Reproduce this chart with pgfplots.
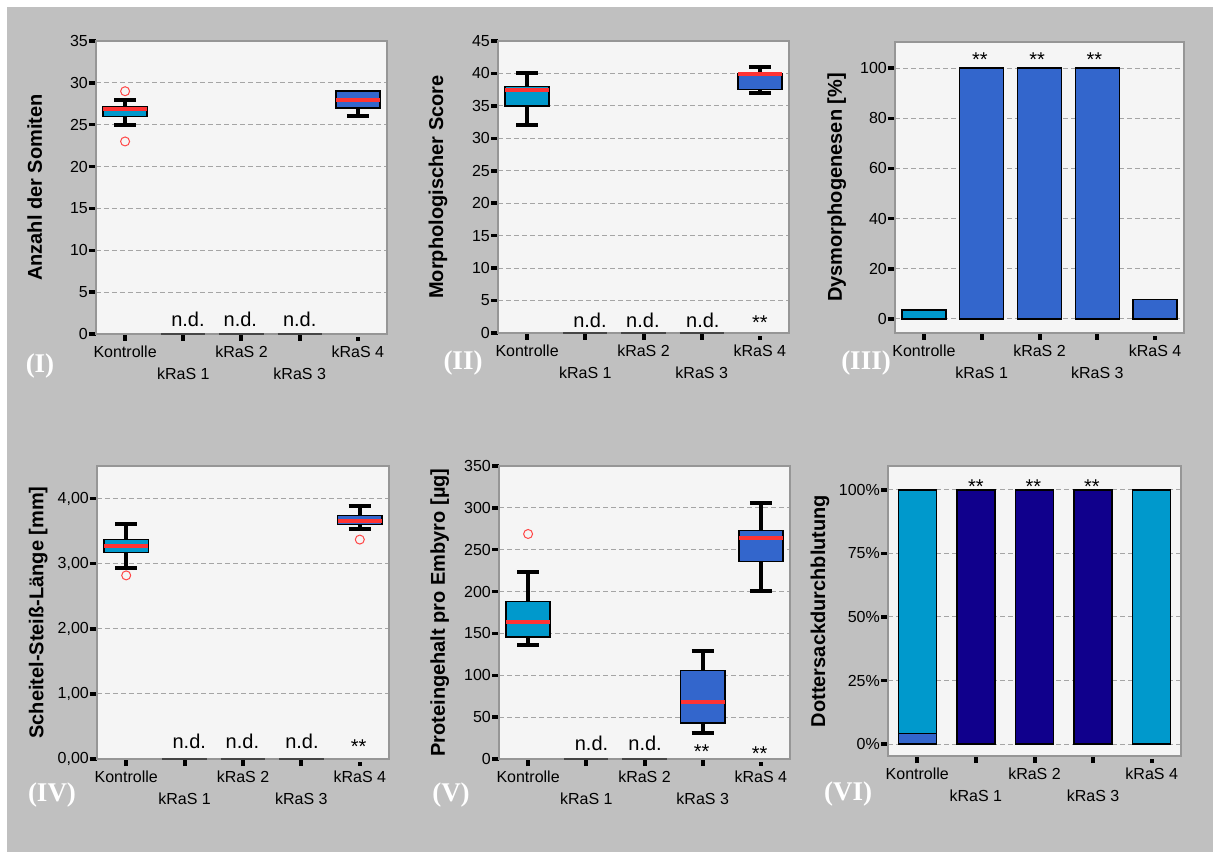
\documentclass[border=0pt]{standalone}
\usepackage{fontspec}
\setmainfont{Liberation Sans}
\newfontfamily\romanfont{Liberation Serif}
\usepackage{pgfplots}
\pgfplotsset{compat=1.18}
\definecolor{bggrey}{RGB}{192,192,192}
\definecolor{plotbg}{RGB}{245,245,245}
\definecolor{framegrey}{RGB}{150,150,150}
\definecolor{gridgrey}{RGB}{165,165,165}
\definecolor{cyanbox}{RGB}{0,153,204}
\definecolor{bluebox}{RGB}{51,102,204}
\definecolor{navybar}{RGB}{16,0,140}
\definecolor{medred}{RGB}{255,51,51}
\definecolor{outred}{RGB}{255,70,70}
\definecolor{zeroline}{RGB}{70,70,70}
\tikzset{
  nd/.style={font=\fontsize{20}{24}\selectfont, anchor=center},
  stars/.style={font=\fontsize{20}{24}\selectfont, anchor=base, yshift=-11.5pt},
}
\pgfplotsset{
  panel/.style={
    scale only axis,
    axis background/.style={fill=plotbg},
    axis line style={draw=framegrey, line width=1.5pt},
    xmin=-0.5, xmax=4.5,
    xtick={0,1,2,3,4},
    xticklabels={{\strut Kontrolle},{\strut\\\strut kRaS 1},{\strut kRaS 2},{\strut\\\strut kRaS 3},{\strut kRaS 4}},
    xticklabel style={font=\fontsize{16}{22}\selectfont, align=center, anchor=north, inner sep=1pt},
    yticklabel style={font=\fontsize{16}{19}\selectfont, anchor=east, inner sep=1pt},
    tick align=outside,
    tick pos=left,
    major tick length=7pt,
    xtick style={black, line width=4pt, shorten >=3pt},
    ytick style={black, line width=3.5pt},
    ymajorgrids,
    grid style={gridgrey, line width=1pt, dash pattern=on 5pt off 3pt},
    /pgf/number format/assume math mode=true,
    ylabel style={font=\bfseries\fontsize{20}{24}\selectfont, anchor=base},
    clip=false,
  },
  outl/.style={only marks, mark=o, mark size=4.5pt, mark options={draw=outred, line width=1pt}},
  zl/.style={zeroline, line width=2pt},
  bars/.style={ybar, bar shift=0pt, draw=black, line width=1.5pt, fill=#1},
}
% whisker: position, from (quartile), to (whisker end)
\newcommand\whisk[3]{%
  \pgfmathsetmacro\capL{#1-0.19}\pgfmathsetmacro\capR{#1+0.19}%
  \edef\tmp{%
    \noexpand\addplot[black, line width=4pt] coordinates {(#1,#2) (#1,#3)};
    \noexpand\addplot[black, line width=4pt] coordinates {(\capL,#3) (\capR,#3)};
  }\tmp}
% box: position, lower quartile, median, upper quartile, colour
\newcommand\qbox[5]{%
  \pgfmathsetmacro\boxL{#1-0.38}\pgfmathsetmacro\boxR{#1+0.38}%
  \edef\tmp{%
    \noexpand\addplot[draw=black, line width=1.5pt, fill=#5] coordinates {(\boxL,#2) (\boxR,#2) (\boxR,#4) (\boxL,#4)} --cycle;
    \noexpand\addplot[medred, line width=4pt] coordinates {(\boxL,#3) (\boxR,#3)};
  }\tmp}
\begin{document}
\begin{tikzpicture}
\fill[white] (0pt,0pt) rectangle (1213pt,852pt);
\fill[bggrey] (7pt,0pt) rectangle (1213pt,845pt);

% ---------- Panel I ----------
\begin{axis}[panel, anchor=south west, at={(96pt,518pt)}, width=291pt, height=293pt,
  ymin=0, ymax=35, ytick={0,5,...,35},
  ylabel={Anzahl der Somiten},
  ylabel style={at={(axis description cs:-0.186,0.5)}}]
\whisk{0}{26}{25}\whisk{0}{27.1}{28}\qbox{0}{26}{26.9}{27.1}{cyanbox}
\whisk{4}{27}{26}\qbox{4}{27}{28}{29}{bluebox}
\addplot[outl] coordinates {(0,29) (0,23)};
\addplot[zl] coordinates {(0.62,0) (1.38,0)};
\addplot[zl] coordinates {(1.62,0) (2.38,0)};
\addplot[zl] coordinates {(2.62,0) (3.38,0)};
\node[nd] at (axis cs:1.08,1.7) {n.d.};
\node[nd] at (axis cs:1.98,1.7) {n.d.};
\node[nd] at (axis cs:3.0,1.7) {n.d.};
\end{axis}

% ---------- Panel II ----------
\begin{axis}[panel, anchor=south west, at={(498pt,519pt)}, width=291pt, height=292pt,
  ymin=0, ymax=45, ytick={0,5,...,45},
  ylabel={Morphologischer Score},
  ylabel style={at={(axis description cs:-0.189,0.5)}}]
\whisk{0}{35}{32}\whisk{0}{38}{40}\qbox{0}{35}{37.4}{38}{cyanbox}
\whisk{4}{37.5}{37}\whisk{4}{40}{41}\qbox{4}{37.5}{39.9}{40}{bluebox}
\addplot[zl] coordinates {(0.62,0) (1.38,0)};
\addplot[zl] coordinates {(1.62,0) (2.38,0)};
\addplot[zl] coordinates {(2.62,0) (3.38,0)};
\node[nd] at (axis cs:1.08,1.9) {n.d.};
\node[nd] at (axis cs:1.99,1.9) {n.d.};
\node[nd] at (axis cs:3.02,1.9) {n.d.};
\node[stars] at (axis cs:4,2.3) {**};
\end{axis}

% ---------- Panel III ----------
\begin{axis}[panel, anchor=south west, at={(895pt,519pt)}, width=289pt, height=291pt,
  ymin=-5.6, ymax=110.4, ytick={0,20,...,100},
  ylabel={Dysmorphogenesen [\%]},
  ylabel style={at={(axis description cs:-0.184,0.5)}}]
\addplot[bars=cyanbox, bar width=44pt] coordinates {(0,3.5)};
\addplot[bars=bluebox, bar width=44pt] coordinates {(1,100) (2,100) (3,100) (4,7.7)};
\node[stars] at (axis cs:0.97,105.2) {**};
\node[stars] at (axis cs:1.96,105.2) {**};
\node[stars] at (axis cs:2.95,105.2) {**};
\end{axis}

% ---------- Panel IV ----------
\begin{axis}[panel, anchor=south west, at={(97pt,93pt)}, width=292pt, height=293pt,
  ymin=0, ymax=4.5, ytick={0,1,2,3,4},
  yticklabel style={/pgf/number format/.cd, fixed, fixed zerofill, precision=2, use comma},
  ylabel={Scheitel-Steiß-Länge [mm]},
  ylabel style={at={(axis description cs:-0.184,0.5)}}]
\whisk{0}{3.17}{2.94}\whisk{0}{3.37}{3.61}\qbox{0}{3.17}{3.27}{3.37}{cyanbox}
\whisk{4}{3.60}{3.53}\whisk{4}{3.74}{3.88}\qbox{4}{3.60}{3.66}{3.74}{bluebox}
\addplot[outl] coordinates {(0,2.82) (4,3.37)};
\addplot[zl] coordinates {(0.62,0) (1.38,0)};
\addplot[zl] coordinates {(1.62,0) (2.38,0)};
\addplot[zl] coordinates {(2.62,0) (3.38,0)};
\node[nd] at (axis cs:1.08,0.265) {n.d.};
\node[nd] at (axis cs:1.99,0.265) {n.d.};
\node[nd] at (axis cs:3.01,0.265) {n.d.};
\node[stars] at (axis cs:3.98,0.26) {**};
\end{axis}

% ---------- Panel V ----------
\begin{axis}[panel, anchor=south west, at={(499pt,93pt)}, width=291pt, height=293pt,
  ymin=0, ymax=350, ytick={0,50,...,350},
  ylabel={Proteingehalt pro Embyro [µg]},
  ylabel style={at={(axis description cs:-0.186,0.5)}}]
\whisk{0}{145.7}{136.6}\whisk{0}{188.4}{223.4}\qbox{0}{145.7}{164}{188.4}{cyanbox}
\whisk{3}{43}{31.5}\whisk{3}{105.5}{129.4}\qbox{3}{43}{68.5}{105.5}{bluebox}
\whisk{4}{236}{201}\whisk{4}{272.8}{305.8}\qbox{4}{236}{264.4}{272.8}{bluebox}
\addplot[outl] coordinates {(0,268.8)};
\addplot[zl] coordinates {(0.62,0) (1.38,0)};
\addplot[zl] coordinates {(1.62,0) (2.38,0)};
\node[nd] at (axis cs:1.09,18.8) {n.d.};
\node[nd] at (axis cs:2.01,18.8) {n.d.};
\node[stars] at (axis cs:2.98,14.7) {**};
\node[stars] at (axis cs:3.98,12) {**};
\end{axis}

% ---------- Panel VI ----------
\begin{axis}[panel, anchor=south west, at={(888pt,96pt)}, width=293pt, height=290pt,
  ymin=-4.7, ymax=109.4, ytick={0,25,...,100},
  yticklabel={\pgfmathprintnumber{\tick}\%},
  ylabel={Dottersackdurchblutung},
  ylabel style={at={(axis description cs:-0.215,0.5)}}]
\addplot[bars=cyanbox, bar width=38pt] coordinates {(0,100) (4,100)};
\addplot[bars=navybar, bar width=38pt] coordinates {(1,100) (2,100) (3,100)};
\addplot[bars=bluebox, bar width=38pt] coordinates {(0,4.2)};
\node[stars] at (axis cs:1,103.3) {**};
\node[stars] at (axis cs:1.98,103.3) {**};
\node[stars] at (axis cs:2.98,103.3) {**};
\end{axis}

\begin{scope}[every node/.style={text=white, font=\romanfont\bfseries\fontsize{27}{30}\selectfont, anchor=center}]
\node at (40pt,486pt) {(I)};
\node at (463pt,489pt) {(II)};
\node at (866pt,489pt) {(III)};
\node at (52pt,57pt) {(IV)};
\node at (451pt,57pt) {(V)};
\node at (848pt,58pt) {(VI)};
\end{scope}
\end{tikzpicture}
\end{document}
